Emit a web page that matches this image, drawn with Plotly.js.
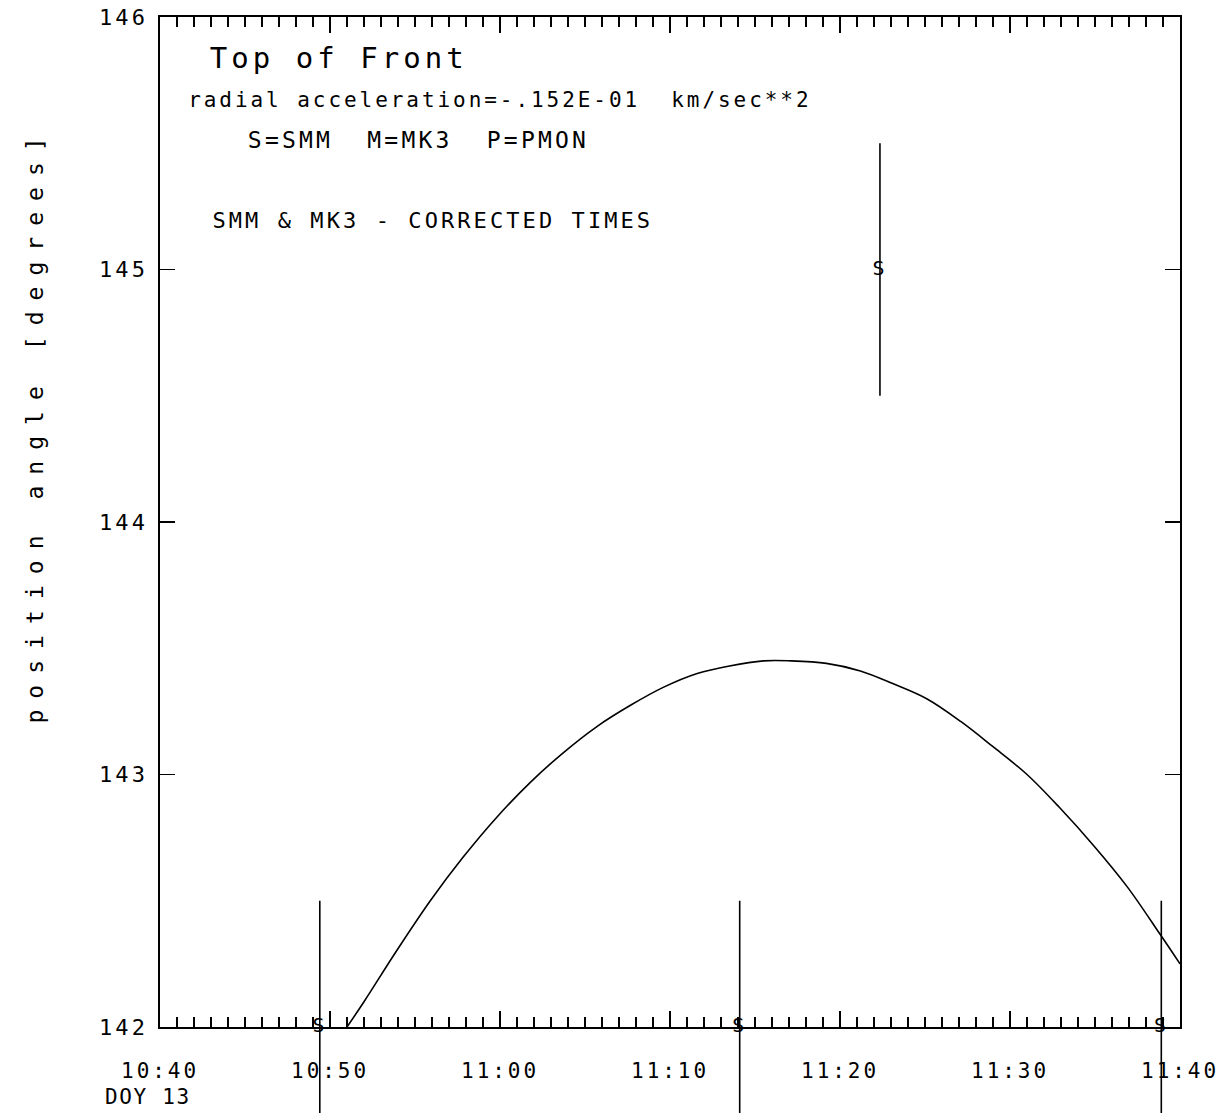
<!DOCTYPE html>
<html><head><meta charset="utf-8">
<script src="https://cdn.plot.ly/plotly-3.0.1.min.js"></script>
<style>
html,body{margin:0;padding:0;background:#fff}
#chart{width:1227px;height:1113px}
.main-svg text{letter-spacing:0.14em}
g.annotation[data-index="4"] text{letter-spacing:0.08em}
g.annotation[data-index="5"] text{letter-spacing:0.48em}
</style></head><body><div id="chart"></div>
<script>
// minutes after 10:40 (DOY 13)
const curveMinutes = [11.0, 12.0, 13.9, 15.9, 17.8, 19.8, 21.8, 23.7, 25.7, 27.7, 29.6, 31.6, 33.5, 35.5, 37.1, 39.2, 41.2, 43.1, 45.1, 47.1, 49.0, 51.0, 52.9, 54.9, 56.9, 58.8, 60.0];
const curveAngle   = [142.000, 142.100, 142.300, 142.500, 142.670, 142.830, 142.970, 143.085, 143.190, 143.275, 143.345, 143.400, 143.430, 143.450, 143.450, 143.440, 143.410, 143.360, 143.300, 143.210, 143.110, 143.000, 142.870, 142.720, 142.555, 142.370, 142.250];
const smmMinutes = [9.4, 34.1, 42.35, 58.9];
const smmAngle   = [142.0, 142.0, 145.0, 142.0];
const smmError   = [0.5, 0.5, 0.5, 0.5];
const xTickMinutes = [0, 10, 20, 30, 40, 50, 60];
const xTickLabels  = ['10:40', '10:50', '11:00', '11:10', '11:20', '11:30', '11:40'];
const yTickValues  = [142, 143, 144, 145, 146];
const labelTitle = 'Top of Front';
const labelAccel = 'radial acceleration=-.152E-01  km/sec**2';
const labelKey   = 'S=SMM  M=MK3  P=PMON';
const labelNote  = 'SMM &amp; MK3 - CORRECTED TIMES';
const labelDoy   = 'DOY 13';
const labelY     = 'position angle [degrees]';

const FONT = '"DejaVu Sans Mono", monospace';

const traces = [
  {x: curveMinutes, y: curveAngle, type: 'scatter', mode: 'lines',
   line: {color: '#000', width: 1.6, shape: 'spline', smoothing: 1},
   hoverinfo: 'skip', showlegend: false},
  {x: smmMinutes, y: smmAngle, type: 'scatter', mode: 'text',
   text: smmMinutes.map(() => 'S'), textposition: 'middle center',
   textfont: {family: FONT, size: 20, color: '#000'},
   error_y: {type: 'data', array: smmError, visible: true, color: '#000', thickness: 1.6, width: 0},
   cliponaxis: false, showlegend: false}
];

const axisCommon = {showline: true, linecolor: '#000', linewidth: 1.6, mirror: 'ticks',
  ticks: 'inside', tickcolor: '#000', tickwidth: 1.4, showgrid: false, zeroline: false,
  tickfont: {family: FONT, size: 21, color: '#000'}};

const layout = {
  width: 1227, height: 1113,
  margin: {l: 160, r: 47, t: 17, b: 86},
  paper_bgcolor: '#fff', plot_bgcolor: '#fff',
  font: {family: FONT, color: '#000'},
  xaxis: Object.assign({}, axisCommon, {
    range: [0, 60], tickvals: xTickMinutes, ticktext: xTickLabels,
    ticklen: 16, ticklabelstandoff: 24,
    minor: {dtick: 1, ticks: 'inside', ticklen: 10, tickcolor: '#000', tickwidth: 1.2, showgrid: false}
  }),
  yaxis: Object.assign({}, axisCommon, {
    range: [142, 146], tickvals: yTickValues, ticklen: 15, ticklabelstandoff: 6,
    tickfont: {family: FONT, size: 22, color: '#000'}
  }),
  annotations: [
    {text: labelTitle, xref: 'paper', yref: 'paper', x: 0.1755, y: 0.959, xanchor: 'center', yanchor: 'middle', showarrow: false, font: {family: FONT, size: 29, color: '#000'}},
    {text: labelAccel, xref: 'paper', yref: 'paper', x: 0.3338, y: 0.918, xanchor: 'center', yanchor: 'middle', showarrow: false, font: {family: FONT, size: 21, color: '#000'}},
    {text: labelKey, xref: 'paper', yref: 'paper', x: 0.2534, y: 0.878, xanchor: 'center', yanchor: 'middle', showarrow: false, font: {family: FONT, size: 23, color: '#000'}},
    {text: labelNote, xref: 'paper', yref: 'paper', x: 0.2672, y: 0.799, xanchor: 'center', yanchor: 'middle', showarrow: false, font: {family: FONT, size: 22, color: '#000'}},
    {text: labelDoy, xref: 'paper', yref: 'paper', x: -0.0118, y: -0.069, xanchor: 'center', yanchor: 'middle', showarrow: false, font: {family: FONT, size: 21, color: '#000'}},
    {text: labelY, xref: 'paper', yref: 'paper', x: -0.1225, y: 0.596, xanchor: 'center', yanchor: 'middle', textangle: -90, showarrow: false, font: {family: FONT, size: 23, color: '#000'}}
  ]
};

Plotly.newPlot('chart', traces, layout, {staticPlot: true}).then(function (gd) {
  // let the error bars run past the frame, as in the original plot
  gd.querySelectorAll('.errorbar, .errorbars').forEach(function (el) {
    var node = el;
    while (node && node.tagName && node.tagName.toLowerCase() !== 'svg') {
      node.removeAttribute('clip-path');
      if (node.style) node.style.clipPath = '';
      node = node.parentNode;
    }
  });
});
</script></body></html>
